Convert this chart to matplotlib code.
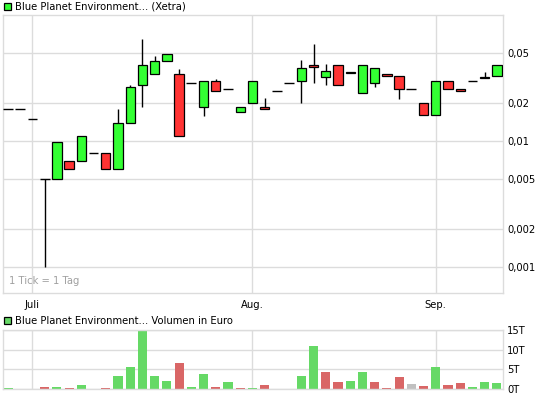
import numpy as np
import matplotlib
matplotlib.use("Agg")
import matplotlib.pyplot as plt
from matplotlib.patches import Rectangle

# daily candles, one tick = one trading day
opens = [0.018, 0.018, 0.015, 0.005, 0.005, 0.007, 0.007, 0.008, 0.008, 0.006,
         0.014, 0.028, 0.034, 0.043, 0.034, 0.029, 0.0186, 0.030, 0.026, 0.017,
         0.020, 0.0186, 0.025, 0.029, 0.030, 0.040, 0.032, 0.040, 0.0352, 0.024,
         0.029, 0.034, 0.033, 0.026, 0.020, 0.0161, 0.030, 0.026, 0.030, 0.0322,
         0.033]
highs = [0.018, 0.018, 0.015, 0.005, 0.0098, 0.007, 0.011, 0.008, 0.008, 0.018,
         0.028, 0.065, 0.047, 0.049, 0.0373, 0.029, 0.030, 0.031, 0.026, 0.0186,
         0.030, 0.022, 0.025, 0.029, 0.044, 0.059, 0.041, 0.040, 0.0352, 0.040,
         0.038, 0.034, 0.033, 0.026, 0.020, 0.030, 0.030, 0.026, 0.030, 0.035,
         0.040]
lows = [0.018, 0.018, 0.015, 0.001, 0.005, 0.006, 0.007, 0.008, 0.006, 0.006,
        0.014, 0.0186, 0.034, 0.043, 0.011, 0.029, 0.0158, 0.025, 0.026, 0.017,
        0.020, 0.018, 0.025, 0.029, 0.020, 0.029, 0.028, 0.028, 0.0348, 0.024,
        0.027, 0.033, 0.0216, 0.026, 0.0161, 0.0161, 0.026, 0.025, 0.030, 0.0318,
        0.033]
closes = [0.018, 0.018, 0.015, 0.005, 0.0098, 0.006, 0.011, 0.008, 0.006, 0.014,
          0.027, 0.040, 0.043, 0.049, 0.011, 0.029, 0.030, 0.025, 0.026, 0.0186,
          0.030, 0.018, 0.025, 0.029, 0.038, 0.0387, 0.036, 0.028, 0.0348, 0.040,
          0.038, 0.033, 0.026, 0.026, 0.0161, 0.030, 0.026, 0.025, 0.030, 0.0318,
          0.040]
# volume in thousand euro
volumes = [0.2, 0, 0, 0.6, 0.6, 0.3, 1.0, 0, 0.3, 3.3,
           5.6, 14.8, 3.3, 2.0, 6.6, 0.6, 3.8, 0.6, 1.75, 0.3,
           0.3, 1.0, 0, 0, 3.3, 11.0, 4.25, 1.75, 2.0, 4.25,
           1.75, 0.25, 3.0, 1.25, 0.75, 5.5, 1.0, 1.5, 0.5, 1.75,
           1.5]
month_pos = [2, 20, 35]
month_labels = ["Juli", "Aug.", "Sep."]
price_ticks = [0.001, 0.002, 0.005, 0.01, 0.02, 0.05]
price_labels = ["0,001", "0,002", "0,005", "0,01", "0,02", "0,05"]
vol_ticks = [0, 5, 10, 15]
vol_labels = ["0T", "5T", "10T", "15T"]

W, H = 545, 398
GRID = "#dcdcdc"
UP, DOWN = "#33ff33", "#ff3333"
VUP, VDOWN, VFLAT = "#66d966", "#d96666", "#c0c0c0"
FS = 7.2

plt.rcParams["font.family"] = ["DejaVu Sans"]


def box(l, t, r, b):
    # pixel box -> figure fraction rect
    return [l / W, 1 - b / H, (r - l) / W, (b - t) / H]


def style(ax):
    for s in ax.spines.values():
        s.set_color(GRID)
        s.set_linewidth(1)
    ax.yaxis.tick_right()
    ax.tick_params(length=0, labelsize=FS, pad=3)
    ax.grid(True, color=GRID, linewidth=1)
    ax.set_axisbelow(True)


fig = plt.figure(figsize=(W / 100, H / 100), dpi=100)

# price panel
ax = fig.add_axes(box(2.5, 15, 503, 293))
style(ax)
x = np.arange(len(opens))
bw = 0.76
for i in x:
    o, h, l, c = opens[i], highs[i], lows[i], closes[i]
    ax.plot([i, i], [l, h], color="black", lw=1, zorder=2, solid_capstyle="butt")
    if o == c:
        ax.plot([i - 0.4, i + 0.4], [o, o], color="black", lw=1, zorder=3, solid_capstyle="butt")
    else:
        ax.add_patch(Rectangle((i - bw / 2, min(o, c)), bw, abs(c - o),
                               facecolor=UP if c > o else DOWN,
                               edgecolor="black", lw=0.9, zorder=3))
ax.set_yscale("log")
ax.set_ylim(0.000622, 0.1)
ax.set_xlim(-0.45, 40.5)
ax.set_yticks(price_ticks)
ax.set_yticklabels(price_labels)
ax.yaxis.set_minor_locator(matplotlib.ticker.NullLocator())
ax.set_xticks(month_pos)
ax.set_xticklabels(month_labels)
ax.tick_params(axis="x", pad=5)
ax.text(0.012, 0.025, "1 Tick = 1 Tag", transform=ax.transAxes,
        fontsize=FS, color="#a0a0a0", va="bottom", ha="left")

# volume panel
axv = fig.add_axes(box(2.5, 330, 503, 389))
style(axv)
vcol = []
for i in x:
    if i == 0 or closes[i] > closes[i - 1]:
        vcol.append(VUP)
    elif closes[i] < closes[i - 1]:
        vcol.append(VDOWN)
    else:
        vcol.append(VFLAT)
axv.bar(x, volumes, width=0.74, color=vcol, zorder=2)
axv.set_xlim(-0.45, 40.5)
axv.set_ylim(0, 15)
axv.set_yticks(vol_ticks)
axv.set_yticklabels(vol_labels)
axv.set_xticks(month_pos)
axv.set_xticklabels([])

# panel titles with legend squares
for top, face, label in [(3, UP, "Blue Planet Environment... (Xetra)"),
                         (317, VUP, "Blue Planet Environment... Volumen in Euro")]:
    fig.patches.append(Rectangle((3.5 / W, 1 - (top + 7) / H), 7 / W, 7 / H,
                                 transform=fig.transFigure, facecolor=face,
                                 edgecolor="black", lw=0.9))
    fig.text(15 / W, 1 - (top + 3.5) / H, label, fontsize=FS, va="center", ha="left")

fig.savefig("out.png", dpi=100)
